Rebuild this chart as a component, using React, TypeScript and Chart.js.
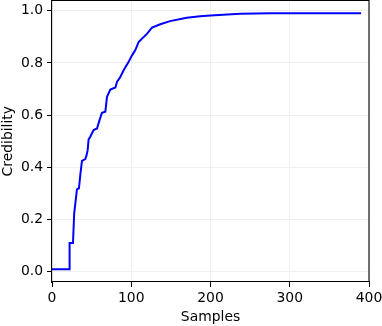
import React, { useEffect, useRef } from "react";
import { Chart, registerables } from "chart.js";

Chart.register(...registerables);

const sampleCounts = [0, 22, 22.2, 26.5, 28, 31.5, 34, 35.7, 37.8, 42, 43.3, 45, 46.2, 48.3, 52.5, 56.8, 60, 63, 67.3, 69.4, 73.6, 80, 82, 86.2, 90.4, 96.7, 101, 105, 109.3, 113.6, 120, 126.2, 136.7, 149, 170, 187, 200, 237.6, 275, 390];
const credibility = [0.01, 0.01, 0.11, 0.11, 0.224, 0.316, 0.32, 0.37, 0.425, 0.432, 0.443, 0.466, 0.507, 0.517, 0.543, 0.549, 0.581, 0.609, 0.613, 0.67, 0.698, 0.706, 0.727, 0.746, 0.772, 0.804, 0.829, 0.848, 0.88, 0.893, 0.912, 0.935, 0.948, 0.96, 0.973, 0.979, 0.982, 0.988, 0.99, 0.99];
const xTicks = [0, 100, 200, 300, 400];
const yTicks = [0.0, 0.2, 0.4, 0.6, 0.8, 1.0];

const FONT = "'DejaVu Sans', sans-serif";
const FONT_SIZE = 13.9;

const framePlugin = {
  id: "frame",
  afterDatasetsDraw(chart: any) {
    const { ctx, chartArea } = chart;
    ctx.save();
    ctx.strokeStyle = "#000000";
    ctx.lineWidth = 1.1;
    ctx.beginPath();
    ctx.moveTo(chartArea.left, chartArea.top);
    ctx.lineTo(chartArea.right, chartArea.top);
    ctx.lineTo(chartArea.right, chartArea.bottom);
    ctx.stroke();
    ctx.restore();
  },
};

export default function App() {
  const ref = useRef<HTMLCanvasElement | null>(null);
  useEffect(() => {
    if (!ref.current) return;
    const chart = new Chart(ref.current, {
      type: "line",
      data: {
        datasets: [
          {
            data: sampleCounts.map((x, i) => ({ x, y: credibility[i] })),
            borderColor: "#0000ff",
            borderWidth: 2,
            pointRadius: 0,
            tension: 0,
            fill: false,
          },
        ],
      },
      options: {
        animation: false,
        responsive: true,
        maintainAspectRatio: false,
        layout: { padding: { left: 0, right: 13, top: 0.5, bottom: 0 } },
        plugins: { legend: { display: false }, tooltip: { enabled: false } },
        scales: {
          x: {
            type: "linear",
            min: 0,
            max: 400,
            afterBuildTicks: (s: any) => {
              s.ticks = xTicks.map((v) => ({ value: v }));
            },
            afterFit: (s: any) => {
              s.height = 44;
              s.paddingLeft = 0;
              s.paddingRight = 0;
            },
            ticks: {
              color: "#000",
              font: { family: FONT, size: FONT_SIZE },
              padding: 3,
              maxRotation: 0,
              callback: (v: any) => String(v),
            },
            grid: { color: "#efefef", tickColor: "#000", tickLength: 5, lineWidth: 1 },
            border: { color: "#000", width: 1.1 },
            title: {
              display: true,
              text: "Samples",
              color: "#000",
              font: { family: FONT, size: FONT_SIZE },
              padding: { top: 0, bottom: 0 },
            },
          },
          y: {
            type: "linear",
            min: -0.039,
            max: 1.039,
            afterBuildTicks: (s: any) => {
              s.ticks = yTicks.map((v) => ({ value: v }));
            },
            afterFit: (s: any) => {
              s.width = 52;
              s.paddingTop = 0;
              s.paddingBottom = 0;
            },
            ticks: {
              color: "#000",
              font: { family: FONT, size: FONT_SIZE },
              padding: 4,
              callback: (v: any) => Number(v).toFixed(1),
            },
            grid: { color: "#efefef", tickColor: "#000", tickLength: 5, lineWidth: 1 },
            border: { color: "#000", width: 1.1 },
            title: {
              display: true,
              text: "Credibility",
              color: "#000",
              font: { family: FONT, size: FONT_SIZE },
              padding: { top: 0, bottom: 0 },
            },
          },
        },
      },
      plugins: [framePlugin],
    });
    return () => chart.destroy();
  }, []);
  return (
    <div style={{ position: "fixed", left: 0, top: 0, width: 382, height: 326, background: "#fff" }}>
      <canvas ref={ref} />
    </div>
  );
}
